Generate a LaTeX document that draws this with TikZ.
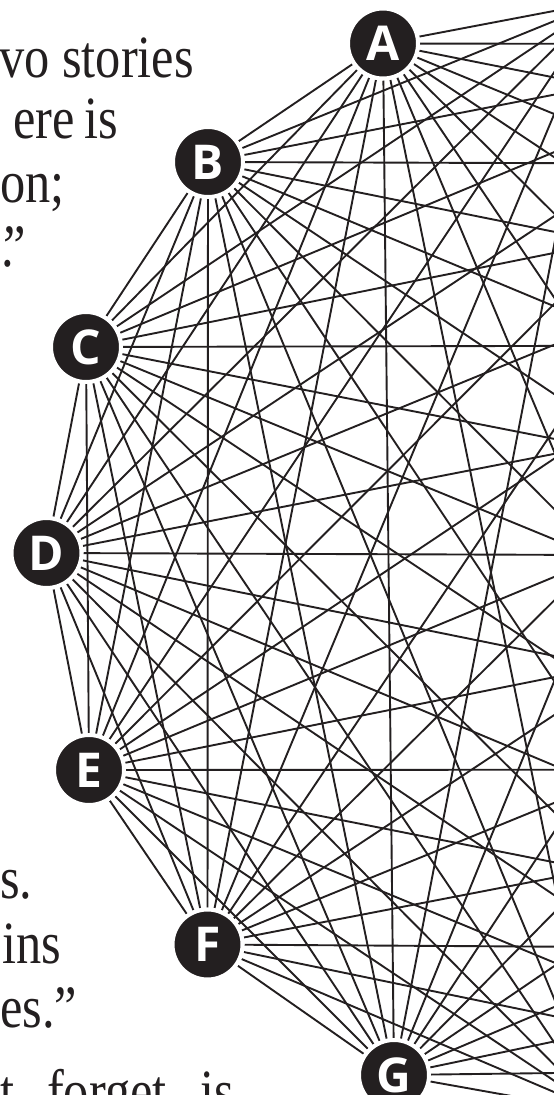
\documentclass[tikz,border=0pt]{standalone}
\usepackage{fontspec}
\setmainfont{Liberation Serif}
\newfontfamily\nodefont{Open Sans}
\usetikzlibrary{backgrounds}
\definecolor{ink}{HTML}{231F20}
\newcommand{\bodytext}[1]{\scalebox{0.84}[1]{\fontsize{60}{64}\selectfont #1}}
\begin{document}
\begin{tikzpicture}[x=1pt,y=-1pt,
  gnode/.style={circle, fill=ink, draw=white, line width=4pt, minimum size=70pt, inner sep=0pt, text=white, font=\nodefont\bfseries\fontsize{48}{48}\selectfont},
  edge/.style={draw=ink, line width=1.9pt},
  body/.style={anchor=base west, inner sep=0pt, text=ink}]
\useasboundingbox (0,0) rectangle (554,1095);
\clip (0,0) rectangle (554,1095);
% visible nodes
\node[gnode] (n1) at (383,43.5) {A};
\node[gnode] (n2) at (208,162) {B};
\node[gnode] (n3) at (86,347) {C};
\node[gnode] (n4) at (46.5,553) {D};
\node[gnode] (n5) at (89,770) {E};
\node[gnode] (n6) at (207.5,944.5) {F};
\node[gnode] (n7) at (394,1075) {G};
% off-picture vertices of the 16-gon
\coordinate (n8) at (601,1112);
\coordinate (n9) at (813.4,1069.8);
\coordinate (n10) at (993.4,949.4);
\coordinate (n11) at (1113.8,769.4);
\coordinate (n12) at (1156,557);
\coordinate (n13) at (1113.8,344.6);
\coordinate (n14) at (993.4,164.6);
\coordinate (n15) at (813.4,44.2);
\coordinate (n16) at (601,2);
\begin{scope}[on background layer]
\foreach \i in {1,...,15}{
  \pgfmathtruncatemacro{\s}{\i+1}
  \foreach \j in {\s,...,16}{
    \draw[edge] (n\i) -- (n\j);
  }
}
\end{scope}
% text
\node[body] (t1a) at (-1,77) {\bodytext{vo}};
\node[body] (t1b) at (62,77) {\bodytext{stories}};
\node[body] (t2a) at (13,138) {\bodytext{ere}};
\node[body] (t2b) at (84,138) {\bodytext{is}};
\node[body] (t3) at (0,202) {\bodytext{on;}};
\node[body] (t4) at (1,266) {\bodytext{.\kern-0.2em”}};
\node[body] (t5) at (0,898) {\bodytext{s.}};
\node[body] (t6) at (2,963) {\bodytext{ins}};
\node[body] (t7) at (0,1027) {\bodytext{es.”}};
\node[body] (t8a) at (0,1111) {\bodytext{t}};
\node[body] (t8b) at (47,1111) {\bodytext{forget}};
\node[body] (t8c) at (200,1111) {\bodytext{is}};
\end{tikzpicture}
\end{document}
